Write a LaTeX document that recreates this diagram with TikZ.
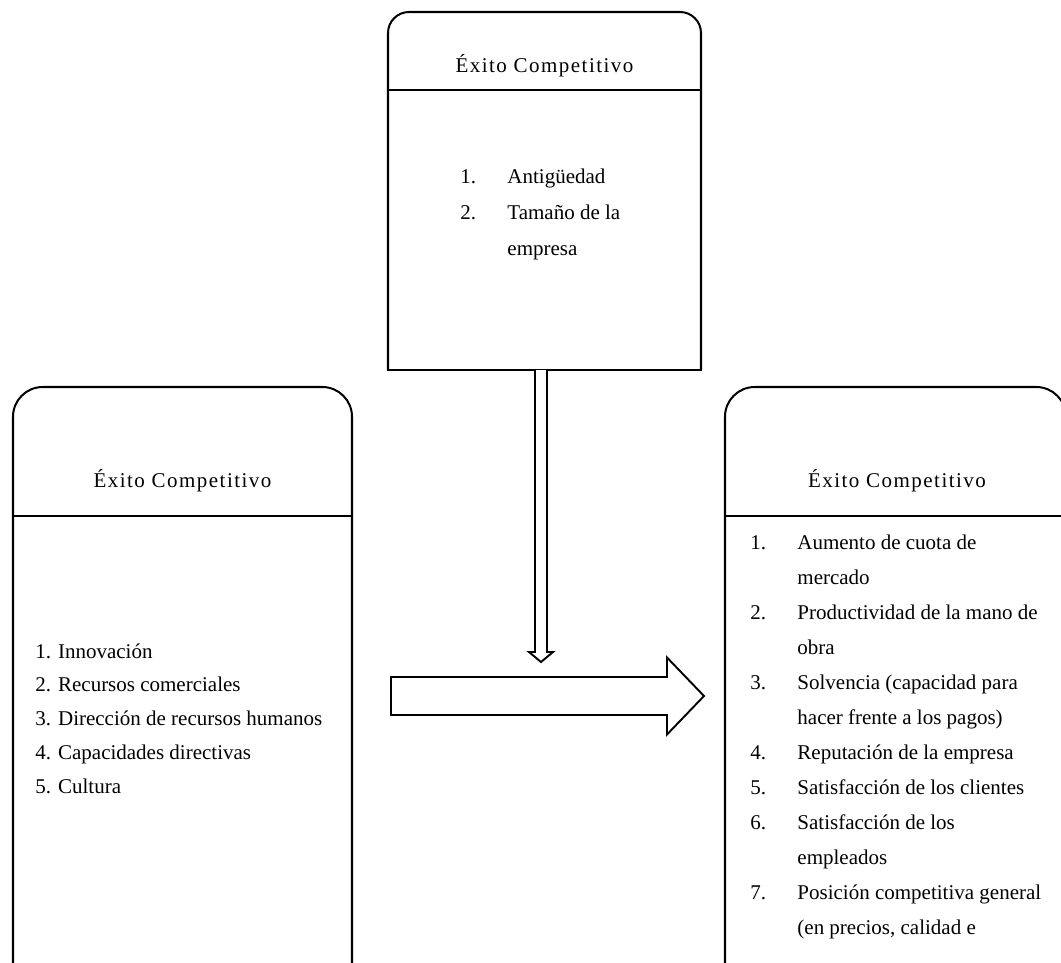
\documentclass[tikz,border=0pt]{standalone}
\usepackage{fontspec}
\setmainfont{Liberation Serif}
\newfontfamily\titlefont[LetterSpace=7]{Liberation Serif}
\newfontfamily\listfont{Liberation Serif}
\usetikzlibrary{calc}
\begin{document}
\begin{tikzpicture}[x=0.5714pt,y=-0.5714pt,
  boxframe/.style={line width=1.15pt},
  sepline/.style={line width=1.15pt},
  blockarrow/.style={line width=1.1pt, line join=miter, fill=white},
  boxtitle/.style={inner sep=0pt, anchor=base, font=\titlefont\fontsize{12}{14}\selectfont},
  boxlist/.style={inner sep=0pt, anchor=base west, font=\listfont\fontsize{12}{#1}\selectfont},
  boxlist/.default=19.6]
\useasboundingbox (0,0) rectangle (1061,963);
\clip (0,0) rectangle (1061,963);

% ---------- top box ----------
\coordinate (T-bl) at (388,370);
\coordinate (T-tl) at (388,12);
\coordinate (T-tr) at (701,12);
\coordinate (T-br) at (701,370);
\draw[boxframe, rounded corners=12pt] (T-bl) -- (T-tl) -- (T-tr) -- (T-br);
\draw[boxframe, line cap=rect] (T-bl) -- (T-br);
\draw[sepline] (388,90) -- (701,90);
\node[boxtitle] (T-title) at (544.5,72) {Éxito Competitivo};
\node[boxlist=20.8] (T-list) at (460,183) {\begin{tabular}[t]{@{}p{26.9pt}@{}l@{}}
1. & Antigüedad\\
2. & Tamaño de la\\
   & empresa
\end{tabular}};

% ---------- left box ----------
\draw[boxframe, rounded corners=17pt] (13,1000) -- (13,387) -- (352,387) -- (352,1000);
\draw[sepline] (13,516) -- (352,516);
\node[boxtitle] (L-title) at (182.5,487) {Éxito Competitivo};
\node[boxlist=19.3] (L-list) at (35,658) {\begin{tabular}[t]{@{}l@{}}
1. Innovación\\
2. Recursos comerciales\\
3. Dirección de recursos humanos\\
4. Capacidades directivas\\
5. Cultura
\end{tabular}};

% ---------- right box ----------
\draw[boxframe, rounded corners=17pt] (725,1000) -- (725,387) -- (1066,387) -- (1066,1000);
\draw[sepline] (725,516) -- (1066,516);
\node[boxtitle] (R-title) at (897,487) {Éxito Competitivo};
\node[boxlist=20.05] (R-list) at (750,549) {\begin{tabular}[t]{@{}p{26.9pt}@{}l@{}}
1. & Aumento de cuota de\\
   & mercado\\
2. & Productividad de la mano de\\
   & obra\\
3. & Solvencia (capacidad para\\
   & hacer frente a los pagos)\\
4. & Reputación de la empresa\\
5. & Satisfacción de los clientes\\
6. & Satisfacción de los\\
   & empleados\\
7. & Posición competitiva general\\
   & (en precios, calidad e
\end{tabular}};

% ---------- vertical arrow ----------
\coordinate (vtop) at (541,370);
\coordinate (vtip) at (541,662);
\draw[blockarrow] ($(vtop)+(-6,0)$) -- ($(vtip)+(-6,-10)$) -- ($(vtip)+(-12,-10)$) -- (vtip)
  -- ($(vtip)+(12,-10)$) -- ($(vtip)+(6,-10)$) -- ($(vtop)+(6,0)$);

% ---------- horizontal arrow ----------
\coordinate (htail) at (391,696);
\coordinate (htip) at (704,696);
\draw[blockarrow] ($(htail)+(0,-19)$) -- ($(htip)+(-37,-19)$) -- ($(htip)+(-37,-38.5)$) -- (htip)
  -- ($(htip)+(-37,38.5)$) -- ($(htip)+(-37,19)$) -- ($(htail)+(0,19)$) -- cycle;
\end{tikzpicture}
\end{document}
